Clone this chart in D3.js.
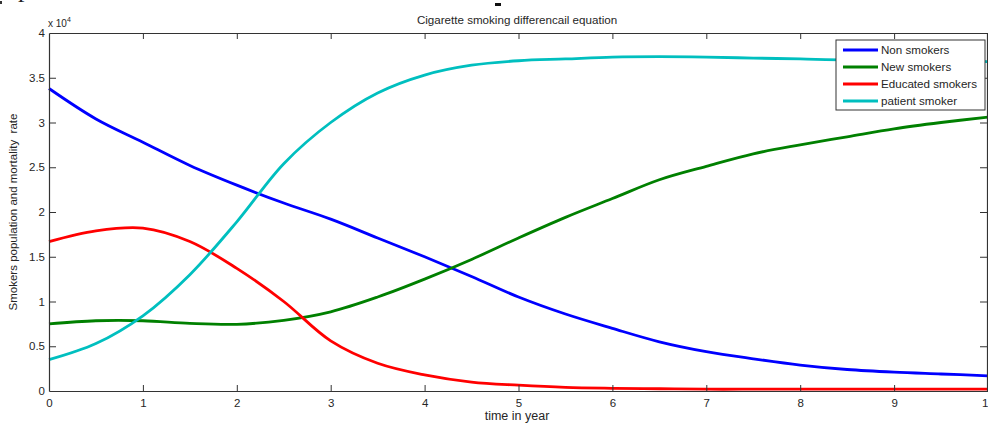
<!DOCTYPE html>
<html>
<head>
<meta charset="utf-8">
<script src="https://cdn.jsdelivr.net/npm/d3@7"></script>
<style>
  html, body { margin: 0; padding: 0; background: #fff; }
  svg { display: block; }
  text { font-family: "Liberation Sans", Arial, sans-serif; fill: #262626; }
</style>
</head>
<body>
<svg id="chart" width="988" height="423"></svg>
<script>
// ---- data (values in units of 10^4) ----
const timeYears = [0, 0.5, 1, 1.5, 2, 2.5, 3, 3.5, 4, 4.5, 5, 5.5, 6, 6.5, 7, 7.5, 8, 8.5, 9, 9.5, 10];
const nonSmokers = [3.38, 3.04, 2.78, 2.52, 2.30, 2.10, 1.92, 1.71, 1.50, 1.28, 1.05, 0.86, 0.70, 0.55, 0.44, 0.36, 0.29, 0.24, 0.21, 0.19, 0.17];
const newSmokers = [0.75, 0.785, 0.785, 0.755, 0.745, 0.79, 0.885, 1.05, 1.25, 1.47, 1.71, 1.94, 2.15, 2.36, 2.51, 2.65, 2.75, 2.84, 2.93, 3.00, 3.06];
const educatedSmokers = [1.67, 1.79, 1.82, 1.67, 1.37, 1.00, 0.56, 0.31, 0.18, 0.10, 0.065, 0.04, 0.03, 0.025, 0.02, 0.02, 0.02, 0.02, 0.02, 0.02, 0.02];
const patientSmoker = [0.35, 0.53, 0.84, 1.30, 1.89, 2.54, 3.00, 3.33, 3.53, 3.64, 3.69, 3.71, 3.73, 3.735, 3.73, 3.72, 3.71, 3.70, 3.70, 3.69, 3.68];
const seriesNames = ["Non smokers", "New smokers", "Educated smokers", "patient smoker"];
const seriesColors = ["#0000ff", "#008000", "#ff0000", "#00bfbf"];
const xTicks = [0, 1, 2, 3, 4, 5, 6, 7, 8, 9, 10];
const yTicks = [0, 0.5, 1, 1.5, 2, 2.5, 3, 3.5, 4];
const yTickLabels = ["0", "0.5", "1", "1.5", "2", "2.5", "3", "3.5", "4"];
const titleText = "Cigarette smoking differencail equation";
const xLabelText = "time in year";
const yLabelText = "Smokers population and mortality  rate";

const allSeries = [nonSmokers, newSmokers, educatedSmokers, patientSmoker];

const svg = d3.select("#chart");
const L = 49, R = 988, T = 33, B = 391;

const x = d3.scaleLinear().domain([0, 10]).range([L, R]);
const y = d3.scaleLinear().domain([0, 4]).range([B, T]);

// stray artefacts at the top of the picture
svg.append("text").attr("x", 18).attr("y", -3)
  .style("font-family", "'Liberation Serif', serif").attr("font-size", 26).style("fill", "#222").text("p");
svg.append("rect").attr("x", 0).attr("y", 1).attr("width", 2).attr("height", 3).attr("fill", "#333");
svg.append("rect").attr("x", 495).attr("y", 3).attr("width", 6).attr("height", 3).attr("fill", "#111");

// lines
const line = d3.line()
  .x((d, i) => x(timeYears[i]))
  .y(d => y(d))
  .curve(d3.curveCatmullRom.alpha(0.5));

const plot = svg.append("g");
allSeries.forEach((s, k) => {
  plot.append("path")
    .datum(s)
    .attr("fill", "none")
    .attr("stroke", seriesColors[k])
    .attr("stroke-width", 2.8)
    .attr("stroke-linejoin", "round")
    .attr("d", line);
});

// axes (MATLAB style box with inward ticks)
const axisColor = "#333";
const gx = svg.append("g").attr("transform", `translate(0,${B})`)
  .call(d3.axisBottom(x).tickValues(xTicks).tickFormat(d3.format("d")).tickSizeInner(-6).tickSizeOuter(0).tickPadding(8));
const gxTop = svg.append("g").attr("transform", `translate(0,${T})`)
  .call(d3.axisTop(x).tickValues(xTicks).tickFormat("").tickSizeInner(-6).tickSizeOuter(0));
const gy = svg.append("g").attr("transform", `translate(${L},0)`)
  .call(d3.axisLeft(y).tickValues(yTicks).tickFormat((d, i) => yTickLabels[i]).tickSizeInner(-7).tickSizeOuter(0).tickPadding(4));
const gyR = svg.append("g").attr("transform", `translate(${R - 1},0)`)
  .call(d3.axisRight(y).tickValues(yTicks).tickFormat("").tickSizeInner(-7).tickSizeOuter(0));

[gx, gxTop, gy, gyR].forEach(g => {
  g.select(".domain").attr("stroke", axisColor).attr("stroke-width", 1.2);
  g.selectAll(".tick line").attr("stroke", axisColor);
  g.selectAll(".tick text").attr("font-size", 11.5).attr("font-family", "Liberation Sans, Arial, sans-serif").style("fill", "#262626");
});
gx.selectAll(".tick line").filter(d => d === 0 || d === 10).remove();
gxTop.selectAll(".tick line").filter(d => d === 0 || d === 10).remove();
gy.selectAll(".tick line").filter(d => d === 0 || d === 4).remove();
gyR.selectAll(".tick line").filter(d => d === 0 || d === 4).remove();

// exponent
const ex = svg.append("text").attr("x", 48).attr("y", 27).attr("font-size", 10);
ex.append("tspan").text("x 10");
ex.append("tspan").attr("dy", -5).attr("font-size", 7).text("4");

// title and labels
svg.append("text").attr("x", 517).attr("y", 24).attr("text-anchor", "middle").attr("font-size", 11.6).text(titleText);
svg.append("text").attr("x", 517).attr("y", 420).attr("text-anchor", "middle").attr("font-size", 12.5).text(xLabelText);
svg.append("text").attr("transform", "translate(17,212) rotate(-90)").attr("text-anchor", "middle")
  .attr("font-size", 11.5).style("white-space", "pre").text(yLabelText);

// legend
const lg = svg.append("g");
lg.append("rect").attr("x", 836).attr("y", 40).attr("width", 149).attr("height", 70)
  .attr("fill", "#fff").attr("stroke", "#333").attr("stroke-width", 1);
seriesNames.forEach((n, k) => {
  const yy = 50 + k * 17;
  lg.append("line").attr("x1", 843).attr("x2", 878).attr("y1", yy).attr("y2", yy)
    .attr("stroke", seriesColors[k]).attr("stroke-width", 3);
  lg.append("text").attr("x", 881).attr("y", yy + 4).attr("font-size", 11.6).text(n);
});
</script>
</body>
</html>
